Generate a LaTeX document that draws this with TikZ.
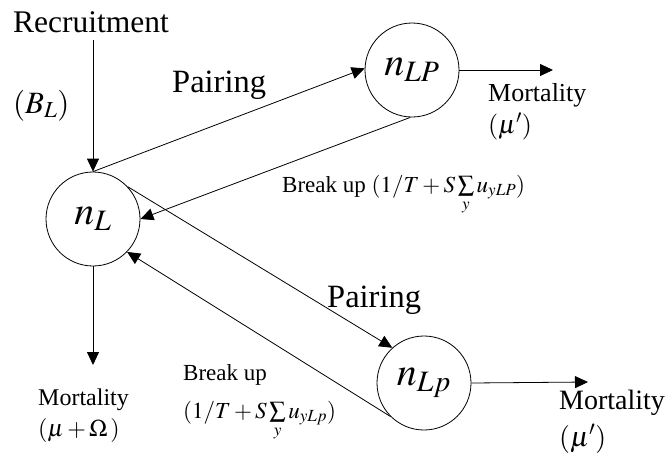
\documentclass[tikz,border=0pt]{standalone}
\usepackage{mathptmx}
\usepackage{fontspec}
\setmainfont{Liberation Serif}
\usetikzlibrary{arrows.meta}

\begin{document}
\begin{tikzpicture}[x=1pt,y=-1pt]
    % --- Styles ---
    \tikzset{
        pool/.style={
            circle,
            draw,
            line width=0.8pt,
            minimum size=94pt,
            inner sep=0pt,
            font=\fontsize{40}{44}\selectfont
        },
        flow/.style={
            line width=0.8pt,
            -{Triangle[length=13pt,width=12pt]}
        },
        big text/.style={anchor=base west, inner sep=0pt, font=\fontsize{31.5}{35}\selectfont},
        mid text/.style={anchor=base west, inner sep=0pt, font=\fontsize{26}{30}\selectfont},
        small text/.style={anchor=base west, inner sep=0pt, font=\fontsize{23}{27}\selectfont},
        two lines/.style={anchor=base west, inner sep=0pt, align=left}
    }

    \useasboundingbox (0,0) rectangle (669,456);

    % =========================================================
    % 1. POOLS
    % =========================================================
    \node[pool] (nL)  at (93,219)  {$n_L$};
    \node[pool] (nLP) at (412,70)  {$n_{LP}$};
    \node[pool] (nLp) at (424,383) {$n_{Lp}$};

    % free ends of the in- and outflows
    \coordinate (recTop)  at (93,40);
    \coordinate (mortL)   at (93,365);
    \coordinate (mortLP)  at (553,70);
    \coordinate (mortLp)  at (588,382);

    % =========================================================
    % 2. FLOWS
    % =========================================================
    \draw[flow] (recTop) -- (nL.north);
    \draw[flow] (nL.north) -- (nLP.178);
    \draw[flow] (nLP.268) -- (nL.east);
    \draw[flow] (nL.43) -- (nLp.132);
    \draw[flow] (nLp.225) -- (nL.316);
    \draw[flow] (nL.south) -- (mortL);
    \draw[flow] (nLP.east) -- (mortLP);
    \draw[flow] (nLp.east) -- (mortLp);

    % =========================================================
    % 3. LABELS
    % =========================================================
    % Recruitment
    \node[big text] (recLbl) at (13,32) {Recruitment};
    \node[small text, font=\fontsize{31}{35}\selectfont] (recRate) at (13,113) {$(B_L)$};

    % Pairing
    \node[big text, font=\fontsize{32.5}{36}\selectfont] (pairLP) at (172,92) {Pairing};
    \node[big text, font=\fontsize{32.5}{36}\selectfont] (pairLp) at (327,307) {Pairing};

    % Break up
    \node[small text] (brkLP) at (282,192)
        {Break up $(1/T+S\sum\limits_{y}u_{yLP})$};
    \node[two lines, font=\fontsize{23}{38}\selectfont] (brkLp) at (183,418)
        {Break up\\$(1/T+S\sum\limits_{y}u_{yLp})$};

    % Mortality
    \node[two lines, font=\fontsize{24}{31}\selectfont] (mortLLbl) at (38,436)
        {Mortality\\$(\mu+\Omega\,)$};
    \node[two lines, font=\fontsize{26}{32}\selectfont] (mortLPLbl) at (488,133)
        {Mortality\\$(\mu')$};
    \node[two lines, font=\fontsize{28}{37}\selectfont] (mortLpLbl) at (559,446)
        {Mortality\\$(\mu')$};

\end{tikzpicture}
\end{document}
